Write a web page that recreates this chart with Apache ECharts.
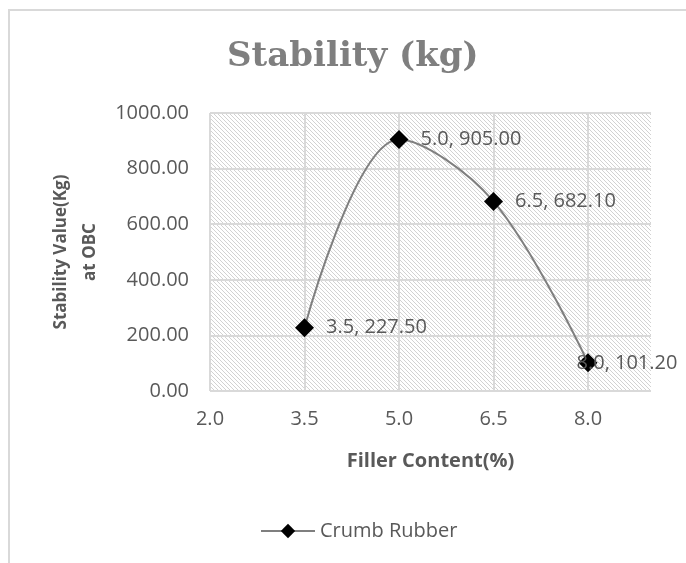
<!DOCTYPE html>
<html>
<head>
<meta charset="utf-8">
<script src="https://cdn.jsdelivr.net/npm/echarts@6/dist/echarts.min.js"></script>
<style>
  html, body { margin: 0; padding: 0; background: #fff; }
  #frame { position: absolute; left: 8px; top: 9px; width: 800px; height: 700px;
           border-left: 2px solid #d9d9d9; border-top: 2px solid #d9d9d9; }
  #chart { position: absolute; left: 0; top: 0; width: 686px; height: 563px; }
</style>
</head>
<body>
<div id="frame"></div>
<div id="chart"></div>
<script>
// ---- data ----
const seriesName = 'Crumb Rubber';
const fillerContent = [3.5, 5.0, 6.5, 8.0];
const stabilityValues = [227.50, 905.00, 682.10, 101.20];
const xTicks = [2.0, 3.5, 5.0, 6.5, 8.0];
const yTicks = [0, 200, 400, 600, 800, 1000];

// hatch pattern
const pc = document.createElement('canvas');
pc.width = 4; pc.height = 4;
const pctx = pc.getContext('2d');
pctx.fillStyle = '#ffffff';
pctx.fillRect(0, 0, 4, 4);
pctx.fillStyle = '#d2d2d2';
for (let i = 0; i < 4; i++) pctx.fillRect(i, i, 1, 1);

const font = '"Open Sans", sans-serif';
const lastIdx = fillerContent.length - 1;
const data = fillerContent.map((x, i) => {
  const item = { value: [x, stabilityValues[i]] };
  if (i === lastIdx) item.label = { offset: [-33, 0] };
  return item;
});

const chart = echarts.init(document.getElementById('chart'), null, { renderer: 'canvas' });
chart.setOption({
  animation: false,
  backgroundColor: 'transparent',
  title: {
    text: 'Stability (kg)',
    left: 222,
    top: 35,
    textStyle: { fontFamily: '"DejaVu Serif", serif', fontWeight: 'bold', fontSize: 34, color: '#7f7f7f' }
  },
  grid: {
    left: 210, top: 113, right: 35, bottom: 172,
    show: true,
    borderWidth: 0,
    backgroundColor: { image: pc, repeat: 'repeat' }
  },
  legend: {
    left: 255, top: 516,
    itemWidth: 54, itemHeight: 18,
    textStyle: { fontFamily: font, fontSize: 20, color: '#595959' },
    data: [seriesName]
  },
  xAxis: {
    type: 'value',
    min: xTicks[0], max: 9, interval: 1.5,
    name: 'Filler Content(%)',
    nameLocation: 'middle', nameGap: 60,
    nameTextStyle: { fontFamily: font, fontSize: 20, fontWeight: 'bold', color: '#595959' },
    axisLine: { show: false }, axisTick: { show: false },
    axisLabel: {
      margin: 18, fontFamily: font, fontSize: 20, color: '#595959',
      formatter: v => (xTicks.some(t => Math.abs(t - v) < 1e-6) ? v.toFixed(1) : '')
    },
    splitLine: { show: true, showMaxLine: false, lineStyle: { color: '#d9d9d9', width: 2 } }
  },
  yAxis: {
    type: 'value',
    min: yTicks[0], max: yTicks[yTicks.length - 1], interval: 200,
    name: 'Stability Value(Kg)\nat OBC',
    nameLocation: 'middle', nameGap: 104,
    nameTextStyle: { fontFamily: font, fontSize: 17, fontWeight: 'bold', color: '#595959', lineHeight: 29, align: 'center' },
    axisLine: { show: false }, axisTick: { show: false },
    axisLabel: { margin: 21, fontFamily: font, fontSize: 20, color: '#595959', formatter: v => v.toFixed(2) },
    splitLine: { show: true, lineStyle: { color: '#d9d9d9', width: 2 } }
  },
  series: [{
    name: seriesName,
    type: 'line',
    data: data,
    smooth: 0.35,
    symbol: 'diamond',
    symbolSize: 19,
    itemStyle: { color: '#000000' },
    lineStyle: { color: '#7f7f7f', width: 2 },
    label: {
      show: true, position: 'right', distance: 12,
      fontFamily: font, fontSize: 20, color: '#595959',
      formatter: p => p.value[0].toFixed(1) + ', ' + p.value[1].toFixed(2)
    }
  }]
});
</script>
</body>
</html>
